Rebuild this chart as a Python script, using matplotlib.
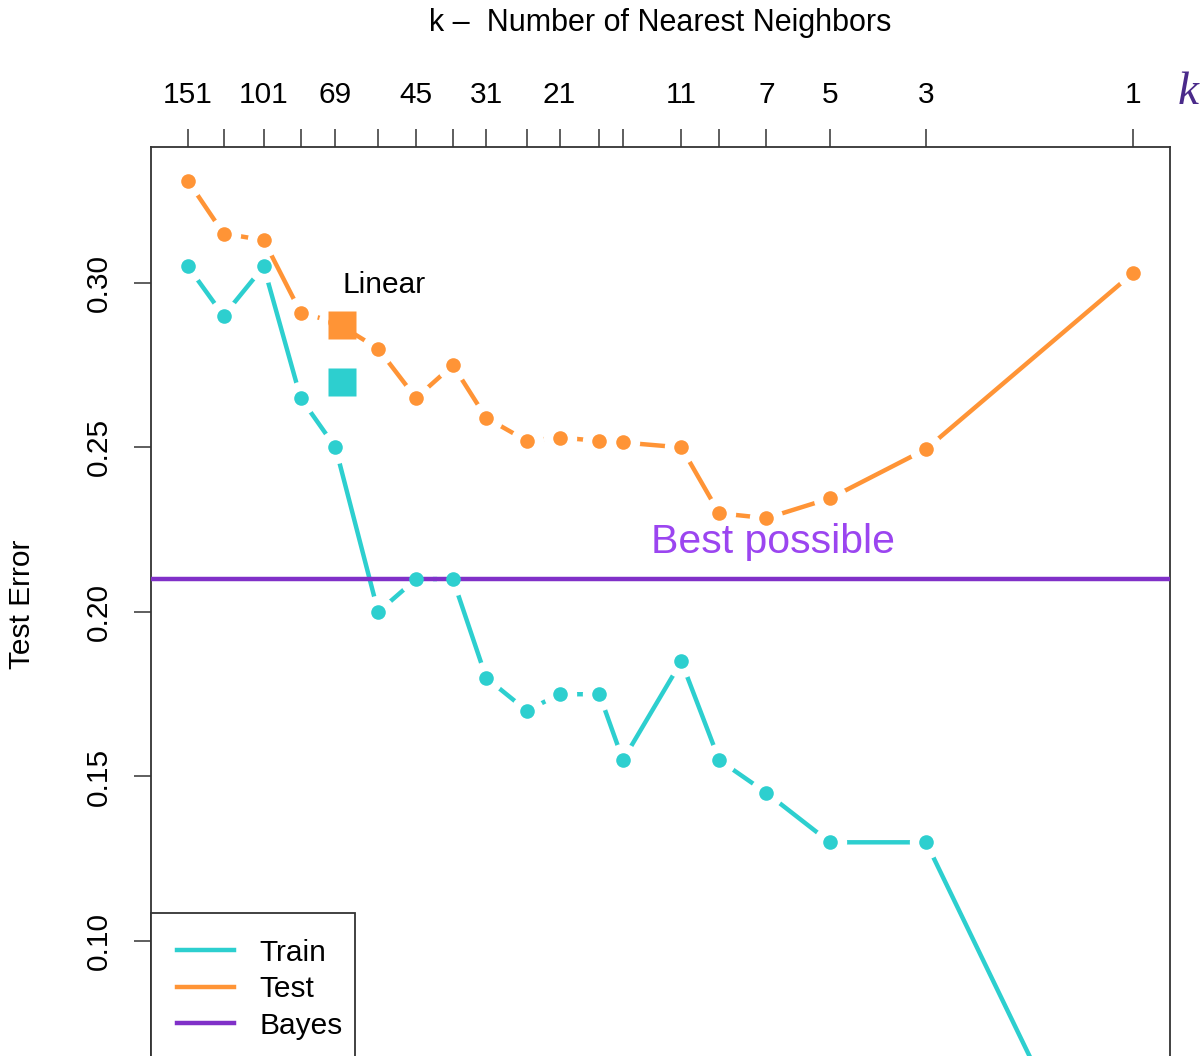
import numpy as np
import matplotlib
matplotlib.use("Agg")
import matplotlib.pyplot as plt
from matplotlib.lines import Line2D
from matplotlib.patches import Rectangle

plt.rcParams['font.family'] = ['Liberation Sans', 'DejaVu Sans']

# number of training points and neighbourhood sizes
N = 200
k_values = [151, 125, 101, 83, 69, 55, 45, 37, 31, 25, 21, 17, 15, 11, 9, 7, 5, 3, 1]
k_labeled = [151, 101, 69, 45, 31, 21, 11, 7, 5, 3, 1]

train_err = [0.305, 0.290, 0.305, 0.265, 0.250, 0.200, 0.210, 0.210, 0.180, 0.170,
             0.175, 0.175, 0.155, 0.185, 0.155, 0.145, 0.130, 0.130, 0.000]
test_err = [0.331, 0.315, 0.313, 0.291, 0.288, 0.280, 0.265, 0.275, 0.259, 0.252,
            0.253, 0.252, 0.2515, 0.250, 0.230, 0.2285, 0.2345, 0.2495, 0.303]

# linear regression uses 3 degrees of freedom
linear_df = 3
linear_train = 0.270
linear_test = 0.2872
bayes_err = 0.210

teal = '#2DCFCF'
orange = '#FF9436'
purple = '#8030C8'

df = N / np.array(k_values, dtype=float)

fig = plt.figure(figsize=(12.02, 10.56), dpi=100)
ax = fig.add_axes([0.1256, -0.0625, 0.8478, 0.9233])

# lines with gaps around the points (like type="b")
ax.plot(df, train_err, color=teal, lw=3.2, solid_capstyle='round', zorder=2)
ax.plot(df, train_err, 'o', ms=24, color='white', mec='none', zorder=2.1)
ax.plot(df, test_err, color=orange, lw=3.2, solid_capstyle='round', zorder=2.2)
ax.plot(df, test_err, 'o', ms=24, color='white', mec='none', zorder=2.3)
ax.axhline(bayes_err, color=purple, lw=3.2, zorder=3)
ax.plot(df, train_err, 'o', ms=10.5, color=teal, mec='none', zorder=4)
ax.plot(df, test_err, 'o', ms=10.5, color=orange, mec='none', zorder=4)

# linear regression results
ax.plot([linear_df], [linear_test], 's', ms=19.5, color=orange, mec='none', zorder=5)
ax.plot([linear_df], [linear_train], 's', ms=19.5, color=teal, mec='none', zorder=5)
ax.text(3.75, 0.2995, 'Linear', fontsize=21.5, ha='center', va='center', zorder=6)
ax.text(29.6, 0.2212, 'Best possible', fontsize=29.5, color='#9B45F0',
        ha='center', va='center', zorder=6)

ax.set_xscale('log')
ax.set_xlim(1.0884, 243.4)
ax.set_ylim(0.045, 0.3413)

# k on the top axis
ax.xaxis.tick_top()
ax.set_xticks(df, minor=False)
ax.set_xticklabels([str(k) if k in k_labeled else '' for k in k_values])
ax.xaxis.set_minor_locator(matplotlib.ticker.NullLocator())
ax.tick_params(axis='x', which='major', direction='out', length=13, width=1.1,
               pad=14.5, labelsize=21.5, color='#333333')
ax.set_yticks([0.10, 0.15, 0.20, 0.25, 0.30])
ax.set_yticklabels(['0.10', '0.15', '0.20', '0.25', '0.30'], rotation=90, va='center')
ax.tick_params(axis='y', direction='out', length=12, width=1.1, pad=15.5,
               labelsize=21.5, color='#333333')
for sp in ax.spines.values():
    sp.set_color('#333333')
    sp.set_linewidth(1.3)

fig.text(660 / 1202, 1 - 23 / 1056, 'k \u2013  Number of Nearest Neighbors',
         fontsize=22, ha='center', va='center')
fig.text(22 / 1202, 1 - 604 / 1056, 'Test Error', fontsize=21.5, rotation=90,
         ha='center', va='center')
fig.text(1188 / 1202, 1 - 93 / 1056, 'k', fontsize=34, style='italic',
         family=['Liberation Serif', 'DejaVu Serif'], color='#4A2A8A',
         ha='center', va='center')

# legend: entries without frame, box drawn separately
handles = [Line2D([], [], color=teal, lw=3.2),
           Line2D([], [], color=orange, lw=3.2),
           Line2D([], [], color=purple, lw=3.2)]
leg = ax.legend(handles, ['Train', 'Test', 'Bayes'], loc='upper left',
                bbox_to_anchor=(0, 0.2144), borderaxespad=0, fontsize=21.5,
                frameon=False, handlelength=1.9, handletextpad=0.85,
                labelspacing=0.28, borderpad=0.87)
leg.set_zorder(7)
ax.add_patch(Rectangle((0, -0.1), 0.2002, 0.3144, transform=ax.transAxes,
                       facecolor='white', edgecolor='#333333', lw=1.3,
                       zorder=6.5, clip_on=False))

fig.savefig('out.png', dpi=100)
